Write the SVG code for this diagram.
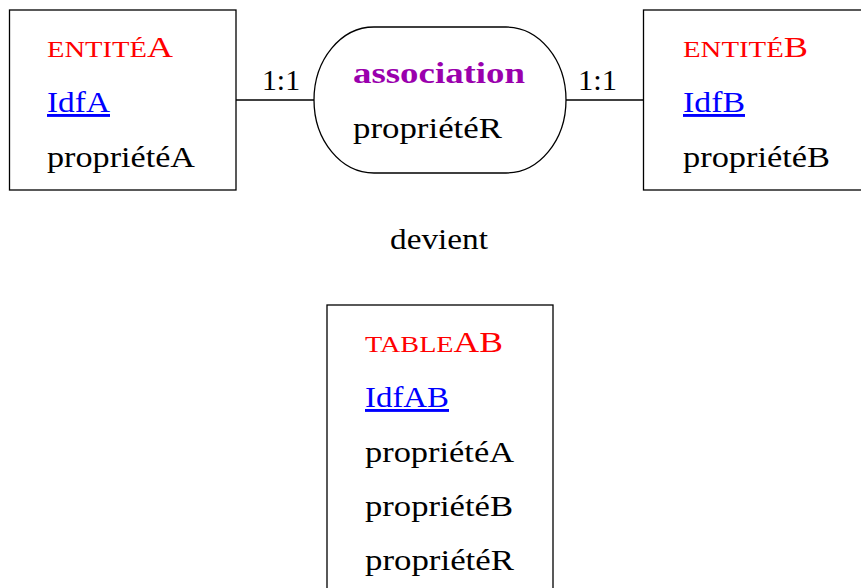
<svg xmlns="http://www.w3.org/2000/svg" width="861" height="588" viewBox="0 0 861 588">
<style>
text{font-family:"Liberation Serif","DejaVu Serif","Times New Roman",serif;font-size:29px;fill:#000}
.title{fill:#ff0000}
.sc{font-size:23px}
.id{fill:#0000ff;text-decoration:underline}
.assoc{fill:#9a00ad;font-weight:bold}
.shape{fill:#fff;stroke:#000;stroke-width:1.3}
.conn{stroke:#000;stroke-width:1.3;fill:none}
</style>
<rect width="861" height="588" fill="#fff"/>
<g id="connectors">
<line class="conn" x1="236" y1="100" x2="314" y2="100"/>
<line class="conn" x1="566" y1="100" x2="643.5" y2="100"/>
<text x="262" y="90" textLength="38" lengthAdjust="spacingAndGlyphs">1:1</text>
<text x="578" y="90" textLength="39" lengthAdjust="spacingAndGlyphs">1:1</text>
</g>
<g id="entiteA">
<rect class="shape" x="9.5" y="10" width="226.5" height="180"/>
<text x="47" y="57" class="title" textLength="126" lengthAdjust="spacingAndGlyphs"><tspan class="sc">ENTITÉ</tspan>A</text>
<text x="47" y="112" class="id" textLength="63" lengthAdjust="spacingAndGlyphs">IdfA</text>
<text x="47" y="167" textLength="148" lengthAdjust="spacingAndGlyphs">propriétéA</text>
</g>
<g id="association">
<rect class="shape" x="314" y="27" width="252" height="146" rx="60" ry="73"/>
<text x="353" y="83" class="assoc" textLength="172" lengthAdjust="spacingAndGlyphs">association</text>
<text x="353" y="138" textLength="149" lengthAdjust="spacingAndGlyphs">propriétéR</text>
</g>
<g id="entiteB">
<rect class="shape" x="643.5" y="10" width="230" height="180"/>
<text x="683" y="57" class="title" textLength="125" lengthAdjust="spacingAndGlyphs"><tspan class="sc">ENTITÉ</tspan>B</text>
<text x="683" y="112" class="id" textLength="62" lengthAdjust="spacingAndGlyphs">IdfB</text>
<text x="683" y="167" textLength="147" lengthAdjust="spacingAndGlyphs">propriétéB</text>
</g>
<g id="devient">
<text x="390" y="249" textLength="98" lengthAdjust="spacingAndGlyphs">devient</text>
</g>
<g id="tableAB">
<rect class="shape" x="327" y="305" width="226" height="300"/>
<text x="365" y="352" class="title" textLength="138" lengthAdjust="spacingAndGlyphs"><tspan class="sc">TABLE</tspan>AB</text>
<text x="365" y="407" class="id" textLength="84" lengthAdjust="spacingAndGlyphs">IdfAB</text>
<text x="365" y="462" textLength="149" lengthAdjust="spacingAndGlyphs">propriétéA</text>
<text x="365" y="516" textLength="148" lengthAdjust="spacingAndGlyphs">propriétéB</text>
<text x="365" y="570" textLength="149" lengthAdjust="spacingAndGlyphs">propriétéR</text>
</g>
</svg>
